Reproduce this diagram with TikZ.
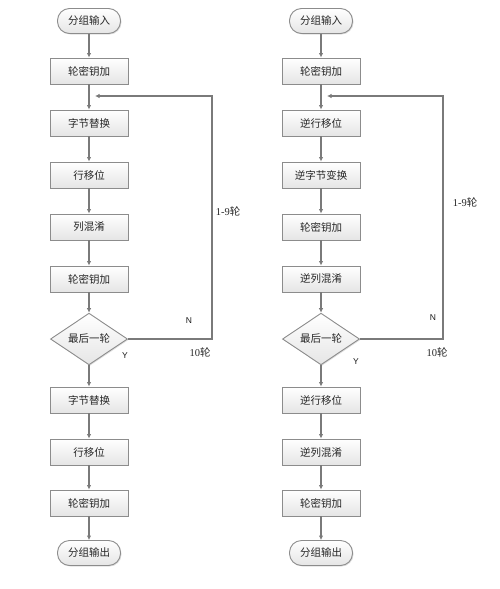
\documentclass[tikz,border=0pt]{standalone}
\usepackage{fontspec}
\setmainfont{Liberation Serif}
\newfontfamily\cjk{Noto Sans CJK SC}
\newfontfamily\lsans{Liberation Sans}
\usetikzlibrary{shapes.geometric,shadows,arrows.meta}
\definecolor{lnc}{HTML}{7A7A7A}
\definecolor{bdc}{HTML}{8C8C8C}
\tikzset{
  base/.style={draw=bdc, line width=0.9pt, top color=white, bottom color=black!10,
    drop shadow={opacity=0.25, shadow xshift=1pt, shadow yshift=-1pt},
    font=\cjk\fontsize{10.5}{12}\selectfont, text=black!85, inner sep=0pt},
  proc/.style={base, rectangle, minimum width=78pt, minimum height=26pt},
  term/.style={base, rectangle, rounded corners=12pt, minimum width=63pt, minimum height=25pt},
  dec/.style={base, diamond, minimum width=77pt, minimum height=46pt},
  conn/.style={draw=lnc, line width=1.1pt, -{Latex[length=4.5pt,width=4.5pt]}},
  lbl/.style={font=\fontsize{10.5}{12}\selectfont, text=black!85, inner sep=0pt},
  yn/.style={font=\lsans\fontsize{8.5}{10}\selectfont, text=black!90, inner sep=0pt}
}
\begin{document}
\begin{tikzpicture}[x=1pt,y=-1pt]
\useasboundingbox (0,0) rectangle (500,589);
% left column
\node[term] (ls) at (89,21) {分组输入};
\node[proc] (lk1) at (89,71) {轮密钥加};
\node[proc] (lb1) at (89,123) {字节替换};
\node[proc] (lr1) at (89,175) {行移位};
\node[proc] (lm1) at (89,227) {列混淆};
\node[proc] (lk2) at (89,279) {轮密钥加};
\node[dec] (ld) at (89,339) {最后一轮};
\node[proc] (lb2) at (89,400) {字节替换};
\node[proc] (lr2) at (89,452) {行移位};
\node[proc] (lk3) at (89,503) {轮密钥加};
\node[term] (le) at (89,553) {分组输出};
\coordinate (lc1) at (212,339);
\coordinate (lc2) at (212,96);
\coordinate (lc3) at (95,96);
\draw[conn] (ls) -- (lk1);
\draw[conn] (lk1) -- (lb1);
\draw[conn] (lb1) -- (lr1);
\draw[conn] (lr1) -- (lm1);
\draw[conn] (lm1) -- (lk2);
\draw[conn] (lk2) -- (ld);
\draw[conn] (ld) -- (lb2);
\draw[conn] (lb2) -- (lr2);
\draw[conn] (lr2) -- (lk3);
\draw[conn] (lk3) -- (le);
\draw[conn] (ld.east) -- (lc1) -- (lc2) -- (lc3);
\node[lbl] (l19) at (228,211) {1-9{\cjk 轮}};
\node[yn] (lN) at (189,321) {N};
\node[lbl] (l10) at (200,352) {10{\cjk 轮}};
\node[yn] (lY) at (125,356) {Y};
% right column
\node[term] (rs) at (321,21) {分组输入};
\node[proc] (rk1) at (321,71) {轮密钥加};
\node[proc] (rr1) at (321,123) {逆行移位};
\node[proc] (rb1) at (321,175) {逆字节变换};
\node[proc] (rk2) at (321,227) {轮密钥加};
\node[proc] (rm1) at (321,279) {逆列混淆};
\node[dec] (rd) at (321,339) {最后一轮};
\node[proc] (rr2) at (321,400) {逆行移位};
\node[proc] (rm2) at (321,452) {逆列混淆};
\node[proc] (rk3) at (321,503) {轮密钥加};
\node[term] (re) at (321,553) {分组输出};
\coordinate (rc1) at (443,339);
\coordinate (rc2) at (443,96);
\coordinate (rc3) at (327,96);
\draw[conn] (rs) -- (rk1);
\draw[conn] (rk1) -- (rr1);
\draw[conn] (rr1) -- (rb1);
\draw[conn] (rb1) -- (rk2);
\draw[conn] (rk2) -- (rm1);
\draw[conn] (rm1) -- (rd);
\draw[conn] (rd) -- (rr2);
\draw[conn] (rr2) -- (rm2);
\draw[conn] (rm2) -- (rk3);
\draw[conn] (rk3) -- (re);
\draw[conn] (rd.east) -- (rc1) -- (rc2) -- (rc3);
\node[lbl] (r19) at (465,202) {1-9{\cjk 轮}};
\node[yn] (rN) at (433,318) {N};
\node[lbl] (r10) at (437,352) {10{\cjk 轮}};
\node[yn] (rY) at (356,362) {Y};
\end{tikzpicture}
\end{document}
